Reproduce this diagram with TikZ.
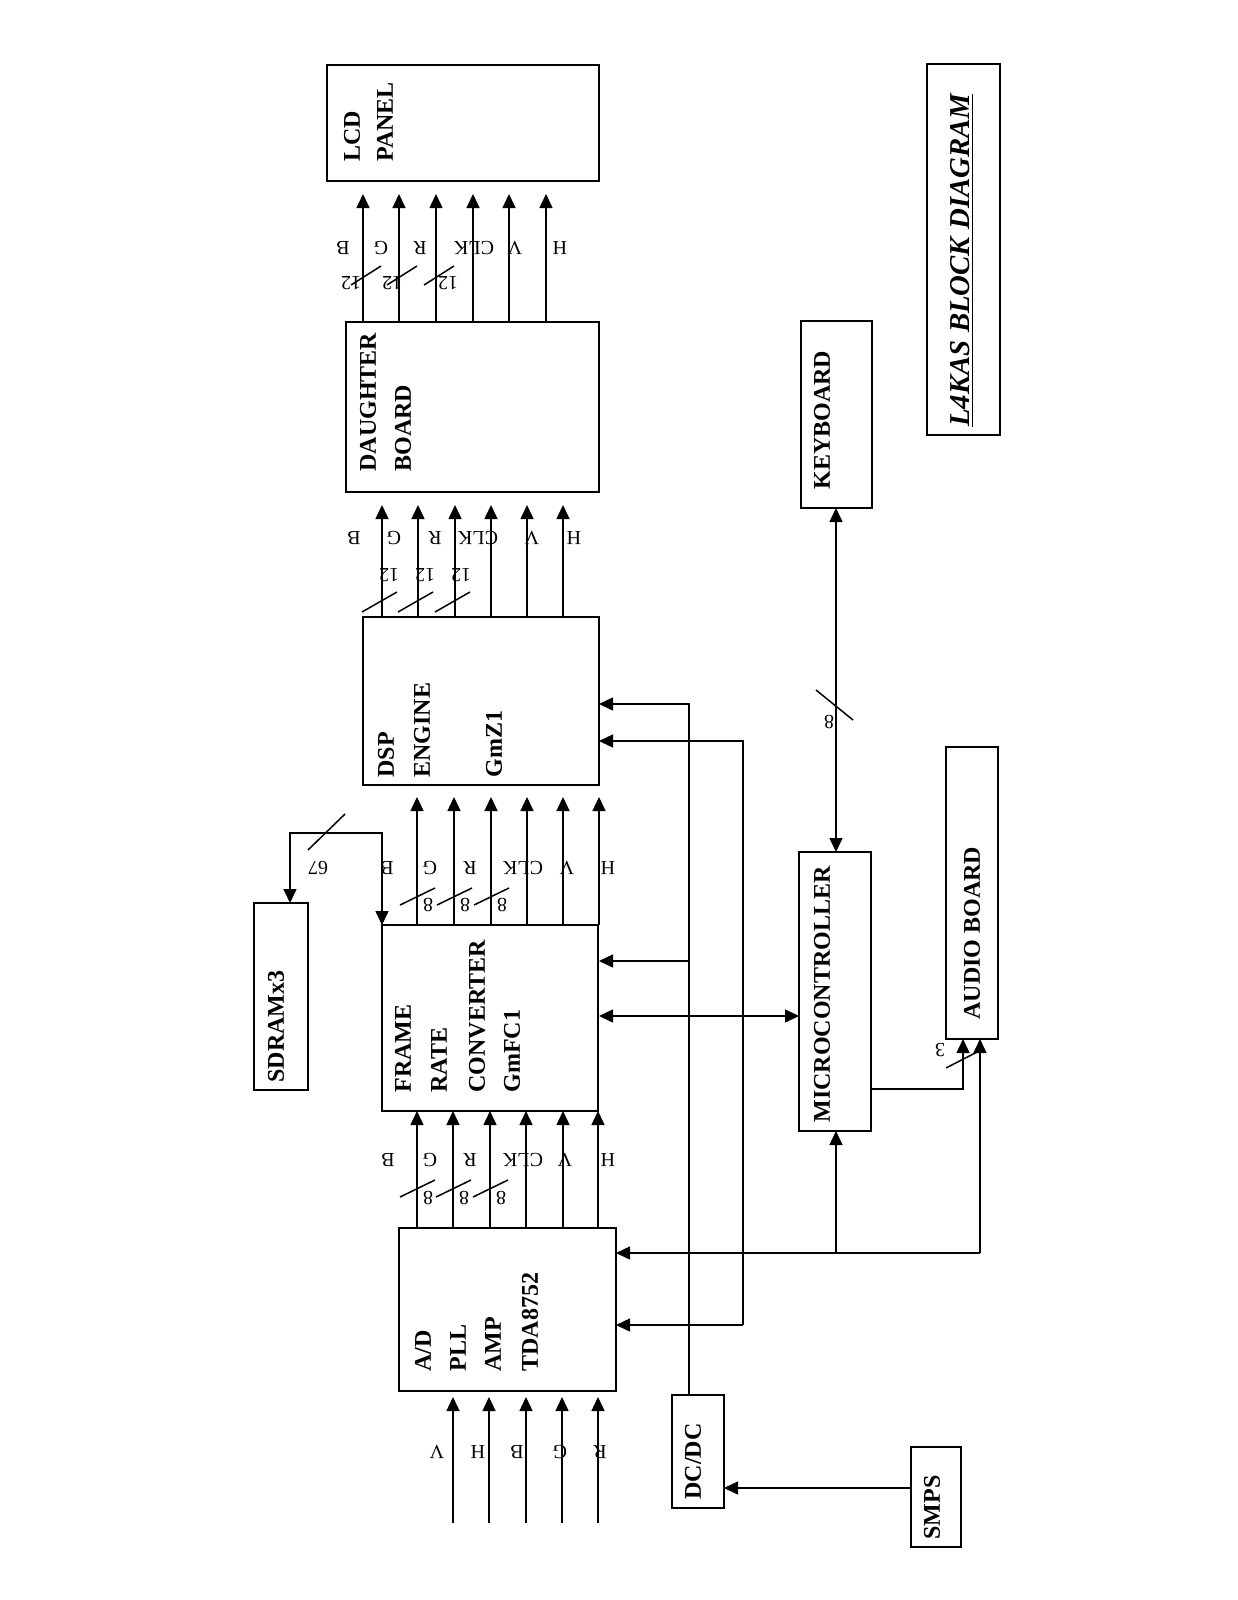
\documentclass[tikz,border=0pt]{standalone}
\usepackage{fontspec}
\setmainfont{Liberation Serif}
\usetikzlibrary{arrows.meta}
\begin{document}
\begin{tikzpicture}[x=0.5pt,y=-0.5pt,
  box/.style={draw, line width=1pt, inner sep=0pt, outer sep=0pt},
  blbl/.style={font=\bfseries\fontsize{12}{14}\selectfont, rotate=90, anchor=west, inner sep=0pt},
  sl/.style={font=\fontsize{10}{12}\selectfont, rotate=180, inner sep=0pt},
  wire/.style={line width=0.75pt},
  arr/.style={wire, -{Triangle[length=7pt,width=6.5pt]}},
  darr/.style={wire, {Triangle[length=7pt,width=6.5pt]}-{Triangle[length=7pt,width=6.5pt]}},
  tick/.style={line width=0.75pt}]
\useasboundingbox[fill=white] (0,0) rectangle (1237,1600);

% boxes
\node[box, minimum width=136pt, minimum height=58pt] (lcd) at (463,123) {};
\node[box, minimum width=126.5pt, minimum height=85pt] (db) at (472.5,407) {};
\node[box, minimum width=118pt, minimum height=84pt] (dsp) at (481,701) {};
\node[box, minimum width=108pt, minimum height=93pt] (frc) at (490,1018) {};
\node[box, minimum width=27pt, minimum height=93.5pt] (sdram) at (281,996.5) {};
\node[box, minimum width=108.5pt, minimum height=81.5pt] (ad) at (507.5,1309.5) {};
\node[box, minimum width=26pt, minimum height=56.5pt] (dcdc) at (698,1451.5) {};
\node[box, minimum width=25pt, minimum height=50pt] (smps) at (936,1497) {};
\node[box, minimum width=36pt, minimum height=139.5pt] (micro) at (835,991.5) {};
\node[box, minimum width=26pt, minimum height=146pt] (audio) at (972,893) {};
\node[box, minimum width=35.5pt, minimum height=93.5pt] (kbd) at (836.5,414.5) {};
\node[box, minimum width=36.5pt, minimum height=185.5pt] (title) at (963.5,249.5) {};

% box labels
\node[blbl] (tLCD) at (352,162) {LCD};
\node[blbl] (tPANEL) at (385,162) {PANEL};
\node[blbl] (tDAU) at (368,472) {DAUGHTER};
\node[blbl] (tBOARD) at (403,472) {BOARD};
\node[blbl] (tDSP) at (386,778) {DSP};
\node[blbl] (tENG) at (422,778) {ENGINE};
\node[blbl] (tGMZ) at (494,778) {GmZ1};
\node[blbl] (tFRAME) at (403,1093) {FRAME};
\node[blbl] (tRATE) at (439,1093) {RATE};
\node[blbl] (tCONV) at (477,1093) {CONVERTER};
\node[blbl] (tGMFC) at (512,1093) {GmFC1};
\node[blbl] (tSDRAM) at (276,1083) {SDRAMx3};
\node[blbl] (tAD) at (423,1372) {A/D};
\node[blbl] (tPLL) at (458,1372) {PLL};
\node[blbl] (tAMP) at (493,1372) {AMP};
\node[blbl] (tTDA) at (530,1372) {TDA8752};
\node[blbl] (tDCDC) at (693,1500) {DC/DC};
\node[blbl] (tSMPS) at (932,1540) {SMPS};
\node[blbl] (tMICRO) at (822,1123) {MICROCONTROLLER};
\node[blbl] (tAUDIO) at (972,1020) {AUDIO BOARD};
\node[blbl] (tKBD) at (822,490) {KEYBOARD};
\node[blbl, font=\bfseries\itshape\fontsize{14.4}{16}\selectfont] (tTITLE) at (962,427) {\underline{L4KAS BLOCK DIAGRAM}};

% DB -> LCD
\foreach \x in {363,399,436,473,509,546} \draw[arr] (\x,321) -- (\x,194);
\foreach \x/\t [count=\i] in {343/B,381/G,420/R,474/CLK,515/V,560/H}
  \node[sl] (la\i) at (\x,248) {\t};
\foreach \x in {363,399,436} \draw[tick] (\x-12,285) -- (\x+18,266);
\foreach \x [count=\i] in {351,392,448} \node[sl] (na\i) at (\x,283) {12};

% DSP -> DB
\foreach \x in {382,418,455,491,527,563} \draw[arr] (\x,617) -- (\x,505);
\foreach \x/\t [count=\i] in {354/B,394/G,435/R,478/CLK,532/V,574/H}
  \node[sl] (lb\i) at (\x,538) {\t};
\foreach \x in {382,418,455} \draw[tick] (\x-20,612) -- (\x+15,592);
\foreach \x [count=\i] in {389,425,461} \node[sl] (nb\i) at (\x,575) {12};

% FRC -> DSP
\foreach \x in {417,454,491,527,563,599} \draw[arr] (\x,925) -- (\x,797);
\foreach \x/\t [count=\i] in {387/B,430/G,470/R,523/CLK,567/V,608/H}
  \node[sl] (lc\i) at (\x,868) {\t};
\foreach \x in {417,454,491} \draw[tick] (\x-17,905) -- (\x+18,888);
\foreach \x [count=\i] in {417,454,491} \node[sl] (nc\i) at (\x+11,905) {8};

% SDRAM bus
\draw[darr] (382,925) -- (382,833) -- (290,833) -- (290,903);
\draw[tick] (308,850) -- (345,814);
\node[sl] (n67) at (318,868) {67};

% AD -> FRC
\foreach \x in {417,453,490,526,563,598} \draw[arr] (\x,1228) -- (\x,1111);
\foreach \x/\t [count=\i] in {388/B,430/G,470/R,523/CLK,565/V,608/H}
  \node[sl] (ld\i) at (\x,1160) {\t};
\foreach \x in {417,453,490} \draw[tick] (\x-17,1197) -- (\x+18,1180);
\foreach \x [count=\i] in {417,453,490} \node[sl] (nd\i) at (\x+11,1198) {8};

% inputs -> AD
\foreach \x in {453,489,526,562,598} \draw[arr] (\x,1523) -- (\x,1397);
\foreach \x/\t [count=\i] in {437/V,478/H,517/B,560/G,600/R}
  \node[sl] (le\i) at (\x,1452) {\t};

% power / control
\draw[arr] (689,1395) -- (689,704) -- (599,704);
\draw[arr] (689,961) -- (599,961);
\draw[arr] (743,1325) -- (743,741) -- (599,741);
\draw[arr] (743,1325) -- (616,1325);
\draw[arr] (980,1253) -- (616,1253);
\draw[arr] (836,1253) -- (836,1131);
\draw[arr] (980,1253) -- (980,1039);
\draw[arr] (911,1488) -- (724,1488);
\draw[darr] (599,1016) -- (799,1016);
\draw[darr] (836,508) -- (836,852);
\draw[tick] (816,690) -- (853,720);
\node[sl] (n8k) at (829,722) {8};
\draw[arr] (871,1089) -- (963,1089) -- (963,1039);
\draw[tick] (946,1068) -- (981,1050);
\node[sl] (n3) at (940,1050) {3};
\end{tikzpicture}
\end{document}
